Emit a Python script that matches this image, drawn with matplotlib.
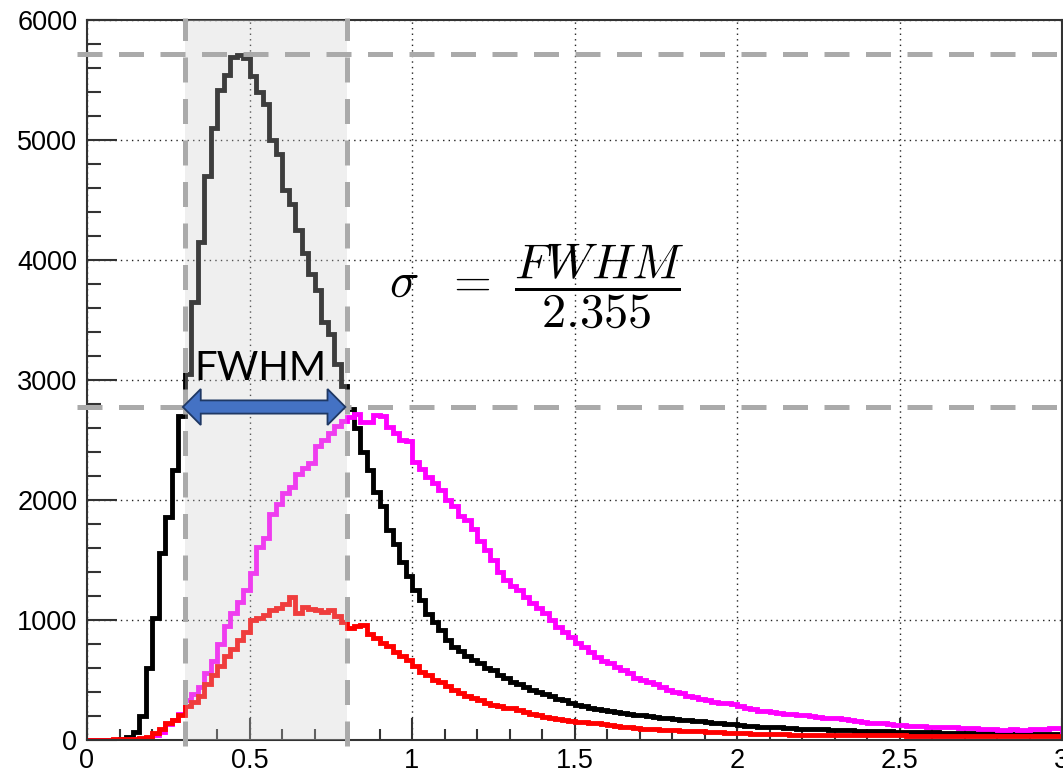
import numpy as np
import matplotlib
matplotlib.use('Agg')
import matplotlib.pyplot as plt
import matplotlib.patches as mpatches

plt.rcParams['font.family'] = ['Liberation Sans', 'DejaVu Sans']
plt.rcParams['mathtext.fontset'] = 'cm'

# histogram binning: 150 bins of 0.02 from 0 to 3
bin_edges = np.linspace(0.0, 3.0, 151)

black_counts = [
    0, 0, 0, 0, 0, 5, 25, 70, 200, 600,
    1020, 1560, 1860, 2250, 2700, 3050, 3650, 4150, 4700, 5100,
    5420, 5540, 5690, 5710, 5680, 5530, 5400, 5300, 5000, 4880,
    4580, 4470, 4250, 4060, 3880, 3750, 3480, 3380, 3130, 2950,
    2760, 2600, 2400, 2250, 2070, 1950, 1750, 1630, 1480, 1370,
    1250, 1170, 1050, 980, 920, 830, 775, 740, 700, 670,
    640, 600, 580, 540, 520, 485, 470, 440, 420, 400,
    380, 365, 345, 330, 310, 295, 285, 270, 260, 250,
    240, 235, 225, 220, 210, 205, 200, 190, 185, 180,
    175, 170, 168, 160, 160, 150, 145, 140, 135, 130,
    125, 120, 118, 112, 110, 105, 105, 100, 98, 95,
    95, 92, 90, 88, 85, 85, 82, 80, 78, 78,
    75, 75, 72, 72, 70, 70, 68, 66, 66, 64,
    64, 62, 62, 60, 60, 58, 58, 57, 56, 56,
    55, 55, 54, 53, 53, 52, 52, 51, 50, 50,
]

magenta_counts = [
    0, 0, 0, 0, 0, 0, 0, 5, 10, 20,
    40, 65, 130, 170, 220, 330, 380, 440, 560, 660,
    800, 950, 1060, 1150, 1250, 1390, 1610, 1680, 1880, 1970,
    2060, 2110, 2220, 2270, 2310, 2450, 2500, 2560, 2620, 2660,
    2690, 2720, 2650, 2650, 2710, 2700, 2610, 2560, 2500, 2490,
    2320, 2260, 2190, 2140, 2080, 2000, 1950, 1870, 1830, 1760,
    1660, 1580, 1500, 1400, 1330, 1280, 1250, 1190, 1140, 1100,
    1060, 1000, 945, 900, 860, 810, 775, 730, 690, 660,
    640, 610, 585, 560, 520, 500, 480, 470, 445, 420,
    400, 390, 370, 360, 345, 330, 320, 310, 305, 300,
    280, 270, 255, 245, 240, 235, 225, 220, 215, 210,
    205, 200, 190, 185, 180, 180, 175, 165, 160, 150,
    145, 140, 138, 135, 125, 125, 120, 120, 115, 112,
    110, 110, 105, 105, 100, 100, 98, 95, 90, 88,
    85, 85, 88, 85, 85, 90, 95, 95, 100, 100,
]

red_counts = [
    0, 0, 0, 0, 5, 5, 10, 12, 15, 25,
    55, 90, 140, 170, 210, 280, 320, 370, 470, 540,
    620, 700, 760, 830, 900, 1000, 1020, 1040, 1080, 1100,
    1130, 1190, 1060, 1110, 1090, 1080, 1070, 1080, 1030, 980,
    930, 950, 960, 880, 850, 810, 780, 730, 700, 670,
    620, 570, 540, 500, 480, 450, 420, 390, 370, 350,
    330, 310, 295, 280, 270, 265, 250, 230, 220, 210,
    195, 185, 175, 165, 160, 150, 148, 145, 140, 135,
    125, 115, 110, 105, 100, 95, 90, 90, 85, 82,
    80, 78, 76, 75, 72, 70, 68, 64, 60, 58,
    56, 55, 53, 52, 50, 48, 47, 46, 45, 45,
    44, 44, 43, 42, 42, 41, 41, 40, 40, 40,
    40, 39, 39, 38, 38, 38, 37, 37, 36, 36,
    36, 35, 35, 35, 34, 34, 34, 33, 33, 33,
    32, 32, 32, 31, 31, 31, 30, 30, 30, 30,
]

fwhm_low, fwhm_high = 0.3, 0.8
peak_level = 5720
half_max = 2775

x_ticks = [0, 0.5, 1, 1.5, 2, 2.5, 3]
x_tick_labels = ['0', '0.5', '1', '1.5', '2', '2.5', '3']
y_ticks = [0, 1000, 2000, 3000, 4000, 5000, 6000]
y_tick_labels = ['0', '1000', '2000', '3000', '4000', '5000', '6000']

fig = plt.figure(figsize=(10.63, 7.71), dpi=100)
ax = fig.add_axes([87 / 1063, 31 / 771, 975 / 1063, 720 / 771])

ax.stairs(black_counts, bin_edges, color='black', lw=3.5, zorder=2)
ax.stairs(magenta_counts, bin_edges, color='#ff00ff', lw=3.5, zorder=2)
ax.stairs(red_counts, bin_edges, color='#ff0000', lw=3.5, zorder=2)

ax.set_xlim(0, 3)
ax.set_ylim(0, 6000)

# shaded FWHM band
ax.axvspan(fwhm_low, fwhm_high, color='#cdcdcd', alpha=0.3, lw=0, zorder=3)

dash_style = dict(color='#aaaaaa', lw=3.6, dashes=(5, 3.3), clip_on=False, zorder=4)
for xv in (fwhm_low, fwhm_high):
    ax.plot([xv, xv], [-50, 6020], **dash_style)
for yv in (peak_level, half_max):
    ax.plot([-0.03, 3.0], [yv, yv], **dash_style)

# double-headed block arrow across the FWHM
body_h, head_h, head_len = 55, 150, 0.055
a0, a1 = fwhm_low - 0.005, fwhm_high - 0.005
arrow_pts = [
    (a0, half_max),
    (a0 + head_len, half_max + head_h),
    (a0 + head_len, half_max + body_h),
    (a1 - head_len, half_max + body_h),
    (a1 - head_len, half_max + head_h),
    (a1, half_max),
    (a1 - head_len, half_max - head_h),
    (a1 - head_len, half_max - body_h),
    (a0 + head_len, half_max - body_h),
    (a0 + head_len, half_max - head_h),
]
ax.add_patch(mpatches.Polygon(arrow_pts, closed=True, facecolor='#4472c4',
                              edgecolor='#1f3864', lw=1.3, zorder=5))

ax.text(0.535, 3000, 'FWHM', fontsize=29, family=['Lato', 'DejaVu Sans'],
        ha='center', va='baseline', zorder=6)
ax.text(1.385, 3790, r'$\sigma\ \ =\ \dfrac{FWHM}{2.355}$', fontsize=35,
        ha='center', va='center', zorder=6)

ax.set_xticks(x_ticks)
ax.set_xticklabels(x_tick_labels)
ax.set_yticks(y_ticks)
ax.set_yticklabels(y_tick_labels)
ax.set_xticks(np.arange(0, 3.01, 0.1), minor=True)
ax.set_yticks(np.arange(0, 6001, 200), minor=True)
ax.tick_params(axis='both', which='both', direction='in', labelsize=19.5, width=1.5, color='#333333')
ax.tick_params(axis='y', which='major', length=21.5, pad=7)
ax.tick_params(axis='y', which='minor', length=10)
ax.tick_params(axis='x', which='major', length=16, pad=6)
ax.tick_params(axis='x', which='minor', length=8)

ax.grid(True, which='major', color='#222222', lw=1.0, linestyle=(0, (1, 3)))
ax.set_axisbelow(True)
for sp in ax.spines.values():
    sp.set_linewidth(1.5)
    sp.set_color('#333333')

fig.savefig('out.png', dpi=100)
